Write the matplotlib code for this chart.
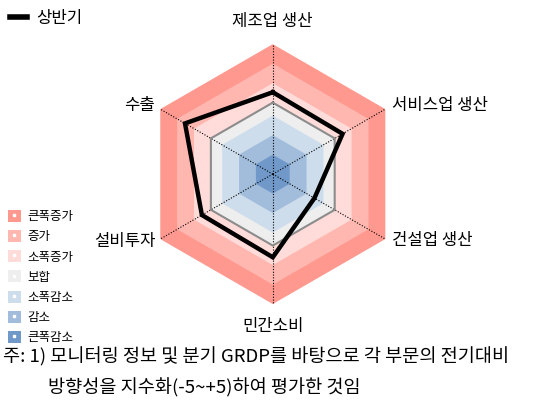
import numpy as np
import matplotlib
matplotlib.use("Agg")
import matplotlib.pyplot as plt
from matplotlib.patches import Patch
from matplotlib.lines import Line2D
from matplotlib.legend_handler import HandlerTuple

plt.rcParams['font.family'] = ['Noto Sans CJK KR', 'DejaVu Sans']

# -----------------------------
# Data
# -----------------------------
categories = ["제조업 생산", "서비스업 생산", "건설업 생산", "민간소비", "설비투자", "수출"]
values_h1 = [1.3, 1.2, -1.3, 1.4, 1.3, 2.8]
reference = 0.5

band_names = ["큰폭증가", "증가", "소폭증가", "보합", "소폭감소", "감소", "큰폭감소"]
band_edges = [5.0, 3.5, 2.0, 0.5, -0.5, -2.0, -3.5]
band_colors = ["#FF998F", "#FFB7B0", "#FFDCD9", "#EEEEEE", "#CEDDEC", "#A2BDDB", "#7099CA"]

# -----------------------------
# Figure
# -----------------------------
fig = plt.figure(figsize=(5.37, 4.16), dpi=100)
ax = fig.add_axes([0.266, 0.269, 0.484, 0.625], projection="polar")
ax.set_theta_offset(np.pi / 2)
ax.set_theta_direction(-1)
ax.set_ylim(-5, 5)
ax.set_axis_off()

n = len(categories)
theta = np.linspace(0, 2 * np.pi, n, endpoint=False)
theta_c = np.append(theta, theta[0])

for edge, col in zip(band_edges, band_colors):
    ax.fill(theta_c, [edge] * (n + 1), color=col, lw=0, zorder=1)

for t in theta:
    ax.plot([t, t], [-5, 5], color="black", ls=(0, (1, 1.5)), lw=0.8, zorder=2)

ax.plot(theta_c, [reference] * (n + 1), color="#8C8C8C", lw=1.5, zorder=3)
ax.plot(theta_c, values_h1 + values_h1[:1], color="black", lw=3.2, zorder=4,
        solid_joinstyle="miter")

# category labels
offsets = [(0, 23, "center"), (7, 4, "left"), (7, -1, "left"),
           (0, -22, "center"), (-5, -2, "right"), (-5, 4, "right")]
for t, name, (dx, dy, ha) in zip(theta, categories, offsets):
    ax.annotate(name, xy=(t, 5), xytext=(dx, dy), textcoords="offset pixels",
                ha=ha, va="center", fontsize=12, annotation_clip=False)

# legends
fig.legend([Line2D([], [], color="black", lw=4)], ["상반기"],
           loc="upper left", bbox_to_anchor=(0.0, 1.0), frameon=False,
           fontsize=12, handlelength=1.0, handletextpad=0.6, borderaxespad=0.2)

handles = [(Patch(facecolor=c), Line2D([], [], marker="s", ms=1.5, color="white", ls=""))
           for c in band_colors]
fig.legend(handles, band_names, handler_map={tuple: HandlerTuple(ndivide=1)},
           loc="lower left", bbox_to_anchor=(0.0, 0.155), frameon=False,
           fontsize=9, handlelength=1.1, handleheight=1.1, labelspacing=0.55,
           handletextpad=0.5, borderaxespad=0.2)

fig.text(0.006, 0.142, "주: 1) 모니터링 정보 및 분기 GRDP를 바탕으로 각 부문의 전기대비",
         fontsize=13.4, va="center")
fig.text(0.089, 0.068, "방향성을 지수화(-5~+5)하여 평가한 것임", fontsize=13.4, va="center")

fig.savefig("out.png", dpi=100)
